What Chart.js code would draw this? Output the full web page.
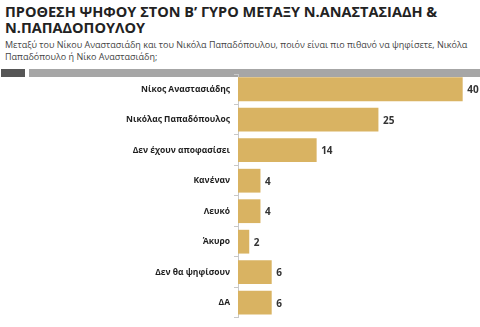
<!DOCTYPE html>
<html>
<head>
<meta charset="utf-8">
<script src="https://cdn.jsdelivr.net/npm/chart.js@4"></script>
<style>
  html, body { margin: 0; padding: 0; background: #fff; }
  #wrap { position: relative; width: 480px; height: 327px; overflow: hidden; font-family: "Open Sans", "Liberation Sans", sans-serif; }
  #title { position: absolute; left: 5px; top: 4px; font-size: 14.5px; font-weight: bold; color: #222; line-height: 16px; letter-spacing: 0; }
  #sub { position: absolute; left: 5px; top: 39px; font-size: 9px; color: #444; line-height: 12px; width: 470px; }
  .band { position: absolute; top: 69px; height: 8px; }
  #band1 { left: 1px; width: 24px; background: #565656; }
  #band2 { left: 29px; width: 451px; background: #a6a6a6; }
  canvas { position: absolute; left: 0; top: 0; }
</style>
</head>
<body>
<div id="wrap">
  <div id="title">ΠΡΟΘΕΣΗ ΨΗΦΟΥ ΣΤΟΝ Β’ ΓΥΡΟ ΜΕΤΑΞΥ Ν.ΑΝΑΣΤΑΣΙΑΔΗ &amp;<br>Ν.ΠΑΠΑΔΟΠΟΥΛΟΥ</div>
  <div id="sub">Μεταξύ του Νίκου Αναστασιάδη και του Νικόλα Παπαδόπουλου, ποιόν είναι πιο πιθανό να ψηφίσετε, Νικόλα Παπαδόπουλο ή Νίκο Αναστασιάδη;</div>
  <div class="band" id="band1"></div>
  <div class="band" id="band2"></div>
  <canvas id="c" width="480" height="327"></canvas>
</div>
<script>
// Categories and percentages
const categories = [
  "Νίκος Αναστασιάδης",
  "Νικόλας Παπαδόπουλος",
  "Δεν έχουν αποφασίσει",
  "Κανέναν",
  "Λευκό",
  "Άκυρο",
  "Δεν θα ψηφίσουν",
  "ΔΑ"
];
const values = [40, 25, 14, 4, 4, 2, 6, 6];

// Value labels drawn just past the end of each bar
const valueLabels = {
  id: 'valueLabels',
  afterDatasetsDraw(chart) {
    const ctx = chart.ctx;
    const meta = chart.getDatasetMeta(0);
    ctx.save();
    ctx.font = 'bold 10px "Open Sans", "Liberation Sans", sans-serif';
    ctx.fillStyle = '#333';
    ctx.textAlign = 'left';
    ctx.textBaseline = 'middle';
    meta.data.forEach((bar, i) => {
      ctx.fillText(String(values[i]), bar.x + 4.5, bar.y + 1);
    });
    ctx.restore();
  }
};

new Chart(document.getElementById('c'), {
  type: 'bar',
  data: {
    labels: categories,
    datasets: [{
      data: values,
      backgroundColor: '#d9b362',
      borderWidth: 0,
      categoryPercentage: 1,
      barPercentage: 0.78
    }]
  },
  options: {
    indexAxis: 'y',
    responsive: false,
    animation: false,
    events: [],
    layout: { padding: { top: 74, bottom: 5, left: 0, right: 3 } },
    plugins: { legend: { display: false }, tooltip: { enabled: false } },
    scales: {
      x: { display: false, min: 0, max: 42.55 },
      y: {
        afterFit(scale) { scale.width = 238; },
        border: { display: true, color: '#c8c8c8', width: 1 },
        grid: { display: true, drawOnChartArea: false, offset: true, tickLength: 4, color: '#c8c8c8' },
        ticks: {
          color: '#1e1e1e',
          padding: 4,
          font: { family: '"Open Sans", "Liberation Sans", sans-serif', size: 8.5, weight: 'bold' }
        }
      }
    }
  },
  plugins: [valueLabels]
});
</script>
</body>
</html>
